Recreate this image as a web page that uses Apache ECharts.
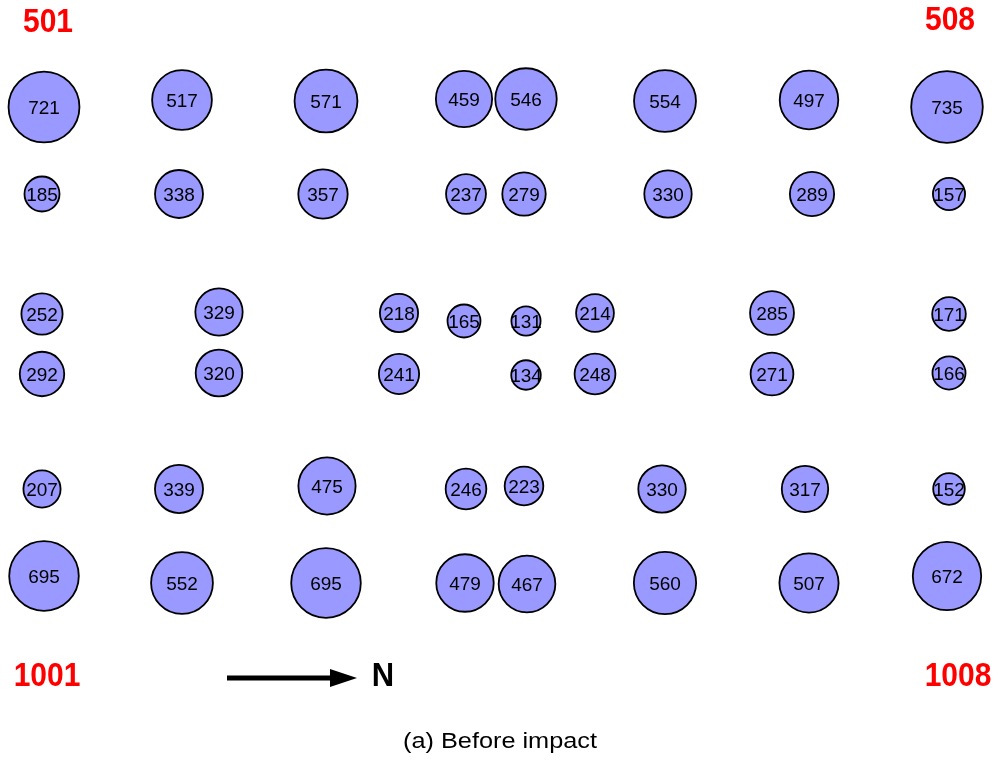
<!DOCTYPE html>
<html>
<head>
<meta charset="utf-8">
<script src="https://cdn.jsdelivr.net/npm/echarts@6/dist/echarts.min.js"></script>
<style>html,body{margin:0;padding:0;background:#fff;}#c{width:998px;height:761px;}</style>
</head>
<body>
<div id="c"></div>
<script>
// Layout position of each gauge (horizontal, vertical; plan units) and its reading
const posX = [
  44, 182, 326, 464, 526, 665, 809, 947,
  42, 179, 323, 466, 524, 668, 812, 949,
  42, 219, 399, 464, 526, 595, 772, 949,
  42, 219, 399, 526, 595, 772, 949,
  42, 179, 327, 466, 524, 662, 805, 949,
  44, 182, 326, 465, 527, 665, 809, 947
];
const posY = [
  107, 100, 101, 99, 99, 101, 100, 107,
  194, 194, 194, 194, 194, 194, 194, 194,
  314, 312, 313, 321, 321, 313, 313, 314,
  374, 373, 374, 375, 374, 374, 373,
  489, 489, 486, 489, 486, 489, 489, 489,
  576, 583, 583, 583, 584, 583, 583, 576
];
const values = [
  721, 517, 571, 459, 546, 554, 497, 735,
  185, 338, 357, 237, 279, 330, 289, 157,
  252, 329, 218, 165, 131, 214, 285, 171,
  292, 320, 241, 134, 248, 271, 166,
  207, 339, 475, 246, 223, 330, 317, 152,
  695, 552, 695, 479, 467, 560, 507, 672
];
const cornerLabels = ['501', '508', '1001', '1008'];
const caption = '(a) Before impact';

const data = values.map((v, i) => [posX[i], posY[i], v]);

const chart = echarts.init(document.getElementById('c'), null, {renderer: 'canvas'});
const redFont = 'bold 30px Arial, "Liberation Sans", sans-serif';
chart.setOption({
  animation: false,
  backgroundColor: '#ffffff',
  grid: {left: 0, right: 0, top: 0, bottom: 0},
  xAxis: {type: 'value', min: 0, max: 998, show: false},
  yAxis: {type: 'value', min: 0, max: 761, inverse: true, show: false},
  series: [{
    type: 'scatter',
    data: data,
    symbol: 'circle',
    symbolSize: d => 2.708 * Math.sqrt(d[2]) - 1.8,
    itemStyle: {color: '#9999FF', borderColor: '#000000', borderWidth: 1.8, opacity: 1},
    label: {
      show: true,
      position: 'inside',
      offset: [0, 1.5],
      formatter: p => String(p.value[2]),
      color: '#000000',
      fontSize: 19,
      fontFamily: 'Arial, "Liberation Sans", sans-serif'
    },
    emphasis: {disabled: true}
  }],
  graphic: [
    {type: 'text', x: 48, y: 23, scaleY: 1.08, style: {text: cornerLabels[0], fill: '#ff0000', font: redFont, textAlign: 'center', textVerticalAlign: 'middle'}},
    {type: 'text', x: 950, y: 21, scaleY: 1.08, style: {text: cornerLabels[1], fill: '#ff0000', font: redFont, textAlign: 'center', textVerticalAlign: 'middle'}},
    {type: 'text', x: 47, y: 677, scaleY: 1.08, style: {text: cornerLabels[2], fill: '#ff0000', font: redFont, textAlign: 'center', textVerticalAlign: 'middle'}},
    {type: 'text', x: 958, y: 677, scaleY: 1.08, style: {text: cornerLabels[3], fill: '#ff0000', font: redFont, textAlign: 'center', textVerticalAlign: 'middle'}},
    {type: 'line', shape: {x1: 227, y1: 678, x2: 334, y2: 678}, style: {stroke: '#000', lineWidth: 5}},
    {type: 'polygon', shape: {points: [[330, 669], [357, 678], [330, 687]]}, style: {fill: '#000'}},
    {type: 'text', x: 383, y: 677, scaleY: 1.08, style: {text: 'N', fill: '#000', font: 'bold 31px Arial, "Liberation Sans", sans-serif', textAlign: 'center', textVerticalAlign: 'middle'}},
    {type: 'text', x: 500, y: 742, scaleX: 1.15, style: {text: caption, fill: '#000', font: '22px Arial, "Liberation Sans", sans-serif', textAlign: 'center', textVerticalAlign: 'middle'}}
  ]
});
</script>
</body>
</html>
